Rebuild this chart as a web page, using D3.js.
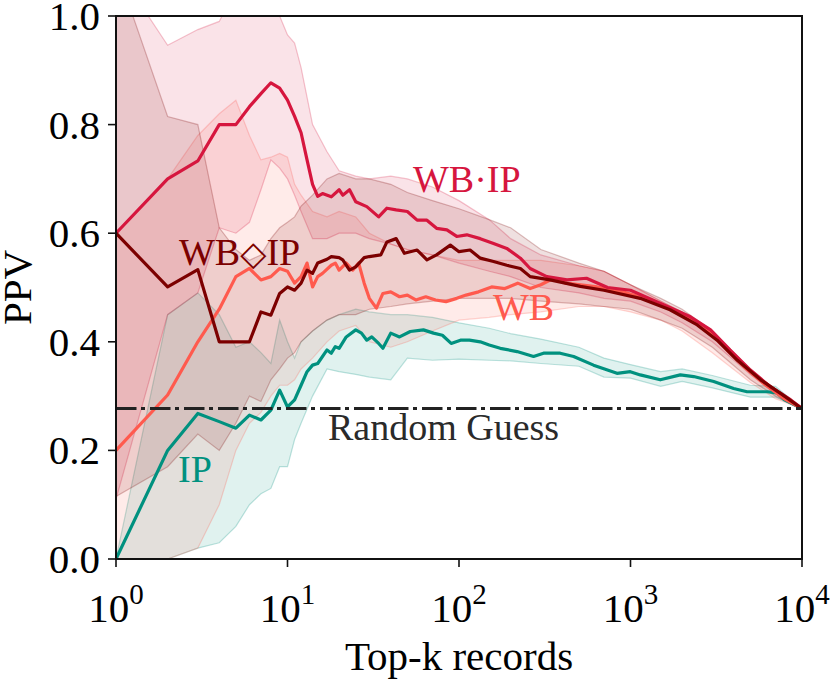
<!DOCTYPE html>
<html>
<head>
<meta charset="utf-8">
<script src="https://cdn.jsdelivr.net/npm/d3@7"></script>
<style>
  body { margin: 0; background: #fff; }
  text { font-family: "Liberation Serif", "Times New Roman", serif; }
</style>
</head>
<body>
<svg id="chart"></svg>
<script>
var W = 830, H = 682;
var margin = {left: 116, right: 28, top: 16, bottom: 123};

// mean curves (top-k, PPV)
var wbipK = [1, 2, 3, 4, 5, 6, 7, 8, 9, 10, 11, 12, 13, 14, 15, 16, 18, 20, 21, 23, 25, 29, 34, 38, 43, 50, 57, 65, 74, 85, 97, 111, 133, 159, 190, 228, 260, 325, 426, 554, 735, 1000, 1570, 2235, 2930, 3800, 5000, 6550, 8600, 10000];
var wbipV = [0.60, 0.70, 0.733, 0.80, 0.80, 0.833, 0.857, 0.877, 0.867, 0.845, 0.815, 0.785, 0.735, 0.69, 0.668, 0.673, 0.667, 0.68, 0.67, 0.68, 0.658, 0.649, 0.63, 0.646, 0.643, 0.64, 0.624, 0.624, 0.609, 0.606, 0.594, 0.597, 0.59, 0.581, 0.572, 0.554, 0.535, 0.52, 0.514, 0.517, 0.50, 0.495, 0.468, 0.446, 0.422, 0.385, 0.348, 0.317, 0.293, 0.277];

var wbdK = [1, 2, 3, 4, 5, 6, 7, 8, 9, 10, 11, 12, 13, 14, 15, 17, 18, 20, 21, 23, 25, 28, 30, 35, 38, 43, 48, 57, 65, 74, 89, 100, 116, 133, 159, 190, 228, 260, 340, 510, 700, 1140, 1700, 2450, 3200, 4200, 5740, 7500, 10000];
var wbdV = [0.60, 0.501, 0.533, 0.40, 0.40, 0.40, 0.455, 0.449, 0.489, 0.501, 0.495, 0.508, 0.532, 0.526, 0.545, 0.552, 0.557, 0.555, 0.551, 0.532, 0.538, 0.555, 0.557, 0.560, 0.584, 0.59, 0.563, 0.569, 0.551, 0.56, 0.578, 0.566, 0.569, 0.554, 0.548, 0.541, 0.535, 0.52, 0.514, 0.502, 0.495, 0.48, 0.459, 0.431, 0.403, 0.366, 0.33, 0.305, 0.277];

var wbK = [1, 2, 3, 4, 5, 6, 7, 8, 9, 10, 11, 12, 13, 14, 15, 16, 18, 19, 20, 22, 24, 26, 28, 30, 33, 36, 40, 45, 50, 56, 64, 73, 84, 97, 110, 130, 155, 185, 220, 260, 300, 356, 420, 640, 900, 1300, 1900, 2700, 3500, 4600, 6000, 7800, 10000];
var wbV = [0.20, 0.302, 0.40, 0.46, 0.52, 0.535, 0.514, 0.52, 0.535, 0.53, 0.508, 0.52, 0.545, 0.501, 0.52, 0.526, 0.541, 0.545, 0.532, 0.545, 0.532, 0.545, 0.508, 0.48, 0.462, 0.489, 0.492, 0.483, 0.486, 0.477, 0.483, 0.477, 0.474, 0.48, 0.486, 0.492, 0.501, 0.498, 0.508, 0.498, 0.505, 0.517, 0.508, 0.501, 0.492, 0.477, 0.455, 0.428, 0.391, 0.354, 0.323, 0.296, 0.277];

var ipK = [1, 2, 3, 4, 5, 6, 7, 8, 9, 10, 11, 12, 13, 14, 15, 17, 18, 19, 20, 22, 25, 27, 29, 31, 34, 36, 40, 45, 52, 62, 71, 80, 90, 102, 115, 133, 150, 174, 218, 272, 311, 389, 466, 609, 834, 997, 1140, 1492, 1953, 2335, 3055, 3993, 4782, 6255, 7157, 7900, 10000];
var ipV = [0.0, 0.20, 0.268, 0.253, 0.241, 0.265, 0.256, 0.274, 0.311, 0.28, 0.293, 0.32, 0.345, 0.357, 0.36, 0.385, 0.379, 0.391, 0.388, 0.409, 0.422, 0.416, 0.403, 0.409, 0.397, 0.388, 0.416, 0.409, 0.419, 0.422, 0.416, 0.412, 0.397, 0.403, 0.403, 0.40, 0.394, 0.388, 0.382, 0.373, 0.379, 0.379, 0.373, 0.357, 0.342, 0.345, 0.339, 0.33, 0.339, 0.336, 0.327, 0.314, 0.308, 0.308, 0.306, 0.293, 0.277];

// spread bands, shared k grid
var bandK = [1, 2, 3, 4, 5, 6, 7, 8, 9, 10, 11, 12, 14, 17, 20, 25, 30, 40, 50, 70, 100, 150, 200, 300, 500, 700, 1000, 1500, 2000, 3000, 5000, 7000, 10000];
var wbipHi = [1.09, 0.946, 0.975, 0.99, 1.05, 1.08, 1.06, 1.03, 1.0, 0.965, 0.95, 0.905, 0.80, 0.75, 0.715, 0.705, 0.70, 0.705, 0.70, 0.685, 0.66, 0.625, 0.59, 0.56, 0.54, 0.53, 0.505, 0.475, 0.455, 0.415, 0.345, 0.31, 0.277];
var wbipLo = [0.11, 0.45, 0.49, 0.61, 0.60, 0.62, 0.68, 0.735, 0.72, 0.70, 0.67, 0.64, 0.59, 0.59, 0.60, 0.60, 0.59, 0.58, 0.57, 0.56, 0.545, 0.53, 0.52, 0.50, 0.49, 0.48, 0.475, 0.455, 0.435, 0.40, 0.34, 0.305, 0.277];
var wbdHi = [1.09, 0.815, 0.80, 0.61, 0.57, 0.55, 0.56, 0.59, 0.61, 0.62, 0.63, 0.65, 0.67, 0.70, 0.71, 0.70, 0.70, 0.69, 0.675, 0.66, 0.645, 0.625, 0.61, 0.57, 0.545, 0.53, 0.505, 0.48, 0.46, 0.42, 0.35, 0.31, 0.277];
var wbdLo = [0.115, 0.17, 0.23, 0.20, 0.25, 0.30, 0.29, 0.33, 0.35, 0.37, 0.38, 0.40, 0.42, 0.44, 0.45, 0.45, 0.46, 0.465, 0.47, 0.475, 0.48, 0.48, 0.48, 0.475, 0.47, 0.465, 0.46, 0.44, 0.425, 0.39, 0.33, 0.30, 0.277];
var wbHi = [0.60, 0.70, 0.78, 0.82, 0.845, 0.78, 0.735, 0.74, 0.747, 0.74, 0.69, 0.67, 0.64, 0.63, 0.64, 0.63, 0.60, 0.58, 0.57, 0.56, 0.55, 0.55, 0.55, 0.55, 0.54, 0.53, 0.505, 0.475, 0.455, 0.41, 0.34, 0.305, 0.277];
var wbLo = [0.0, 0.0, 0.02, 0.10, 0.20, 0.25, 0.27, 0.30, 0.32, 0.32, 0.33, 0.35, 0.37, 0.40, 0.42, 0.43, 0.40, 0.39, 0.40, 0.42, 0.44, 0.445, 0.45, 0.455, 0.465, 0.465, 0.455, 0.44, 0.42, 0.38, 0.325, 0.295, 0.277];
var ipHi = [0.0, 0.45, 0.49, 0.45, 0.39, 0.40, 0.38, 0.36, 0.44, 0.40, 0.37, 0.40, 0.42, 0.44, 0.45, 0.46, 0.455, 0.45, 0.45, 0.445, 0.435, 0.425, 0.415, 0.405, 0.39, 0.37, 0.358, 0.345, 0.35, 0.338, 0.32, 0.318, 0.277];
var ipLo = [0.0, 0.0, 0.02, 0.03, 0.06, 0.10, 0.12, 0.13, 0.17, 0.17, 0.22, 0.25, 0.30, 0.35, 0.345, 0.34, 0.335, 0.33, 0.37, 0.366, 0.368, 0.366, 0.365, 0.36, 0.355, 0.335, 0.333, 0.318, 0.327, 0.315, 0.298, 0.298, 0.277];

var randomGuess = 0.277;
var xTicks = [1, 10, 100, 1000, 10000];
var xTickExp = ['0', '1', '2', '3', '4'];
var yTicks = [0, 0.2, 0.4, 0.6, 0.8, 1.0];

var series = [
  {name: 'IP', color: '#00917f', k: ipK, v: ipV, hi: ipHi, lo: ipLo},
  {name: 'WB', color: '#ff5a4e', k: wbK, v: wbV, hi: wbHi, lo: wbLo},
  {name: 'WB·IP', color: '#d6163e', k: wbipK, v: wbipV, hi: wbipHi, lo: wbipLo},
  {name: 'WB◇IP', color: '#7c0000', k: wbdK, v: wbdV, hi: wbdHi, lo: wbdLo}
];

var svg = d3.select('#chart').attr('width', W).attr('height', H);

var x = d3.scaleLog().domain([1, 10000]).range([margin.left, W - margin.right]);
var y = d3.scaleLinear().domain([0, 1]).range([H - margin.bottom, margin.top]);

svg.append('clipPath').attr('id', 'plot-clip')
  .append('rect')
  .attr('x', margin.left).attr('y', margin.top)
  .attr('width', W - margin.left - margin.right)
  .attr('height', H - margin.top - margin.bottom);

var plot = svg.append('g').attr('clip-path', 'url(#plot-clip)');

var area = d3.area()
  .x(function (d) { return x(d[0]); })
  .y0(function (d) { return y(d[1]); })
  .y1(function (d) { return y(d[2]); });
var edge = d3.line()
  .x(function (d) { return x(d[0]); })
  .y(function (d) { return y(d[1]); });

// bands
series.forEach(function (s) {
  var rows = bandK.map(function (k, i) { return [k, s.lo[i], s.hi[i]]; });
  plot.append('path').datum(rows)
    .attr('d', area)
    .attr('fill', s.color).attr('fill-opacity', 0.12)
    .attr('stroke', 'none');
  [s.lo, s.hi].forEach(function (arr) {
    plot.append('path')
      .datum(bandK.map(function (k, i) { return [k, arr[i]]; }))
      .attr('d', edge)
      .attr('fill', 'none')
      .attr('stroke', s.color).attr('stroke-opacity', 0.25)
      .attr('stroke-width', 1.2);
  });
});

// mean lines
series.forEach(function (s) {
  plot.append('path')
    .datum(s.k.map(function (k, i) { return [k, s.v[i]]; }))
    .attr('d', edge)
    .attr('fill', 'none')
    .attr('stroke', s.color)
    .attr('stroke-width', 3.2)
    .attr('stroke-linejoin', 'round');
});

// random guess
plot.append('line')
  .attr('x1', x(1)).attr('x2', x(10000))
  .attr('y1', y(randomGuess)).attr('y2', y(randomGuess))
  .attr('stroke', '#222')
  .attr('stroke-width', 3)
  .attr('stroke-dasharray', '20.5,4.5,4,5');

// frame
svg.append('rect')
  .attr('x', margin.left).attr('y', margin.top)
  .attr('width', W - margin.left - margin.right)
  .attr('height', H - margin.top - margin.bottom)
  .attr('fill', 'none').attr('stroke', '#111').attr('stroke-width', 2);

// y axis
var gy = svg.append('g');
yTicks.forEach(function (t) {
  gy.append('line')
    .attr('x1', margin.left - 8).attr('x2', margin.left)
    .attr('y1', y(t)).attr('y2', y(t))
    .attr('stroke', '#111').attr('stroke-width', 1.6);
  gy.append('text')
    .attr('x', margin.left - 16).attr('y', y(t) + 14)
    .attr('text-anchor', 'end')
    .attr('font-size', '41px')
    .attr('fill', '#000')
    .text(t.toFixed(1));
});

// x axis
var gx = svg.append('g');
xTicks.forEach(function (t, i) {
  gx.append('line')
    .attr('x1', x(t)).attr('x2', x(t))
    .attr('y1', y(0)).attr('y2', y(0) + 8)
    .attr('stroke', '#111').attr('stroke-width', 1.6);
  var lbl = gx.append('text')
    .attr('x', x(t)).attr('y', 622)
    .attr('text-anchor', 'middle')
    .attr('font-size', '41px')
    .attr('fill', '#000');
  lbl.append('tspan').text('10');
  lbl.append('tspan').attr('font-size', '29px').attr('dy', -18).text(xTickExp[i]);
});

svg.append('text')
  .attr('x', (margin.left + W - margin.right) / 2).attr('y', 670)
  .attr('text-anchor', 'middle')
  .attr('font-size', '41px')
  .text('Top-k records');

svg.append('text')
  .attr('transform', 'translate(31,' + ((margin.top + H - margin.bottom) / 2) + ') rotate(-90)')
  .attr('text-anchor', 'middle')
  .attr('font-size', '41px')
  .text('PPV');

// in-plot labels
var labels = [
  {parts: ['WB·IP'], x: 413, y: 192, color: '#d6163e'},
  {parts: ['WB', '◇', 'IP'], x: 179, y: 265, color: '#7c0000'},
  {parts: ['WB'], x: 493, y: 320, color: '#ff5a4e'},
  {parts: ['IP'], x: 178, y: 482, color: '#00917f'},
  {parts: ['Random Guess'], x: 328, y: 440, color: '#2a2a2a'}
];
labels.forEach(function (l) {
  var t = svg.append('text')
    .attr('x', l.x).attr('y', l.y)
    .attr('font-size', '38px')
    .attr('fill', l.color);
  l.parts.forEach(function (p) {
    var sp = t.append('tspan').text(p);
    if (p === '◇') sp.attr('font-size', '34px').attr('font-family', 'DejaVu Sans');
  });
});
</script>
</body>
</html>
